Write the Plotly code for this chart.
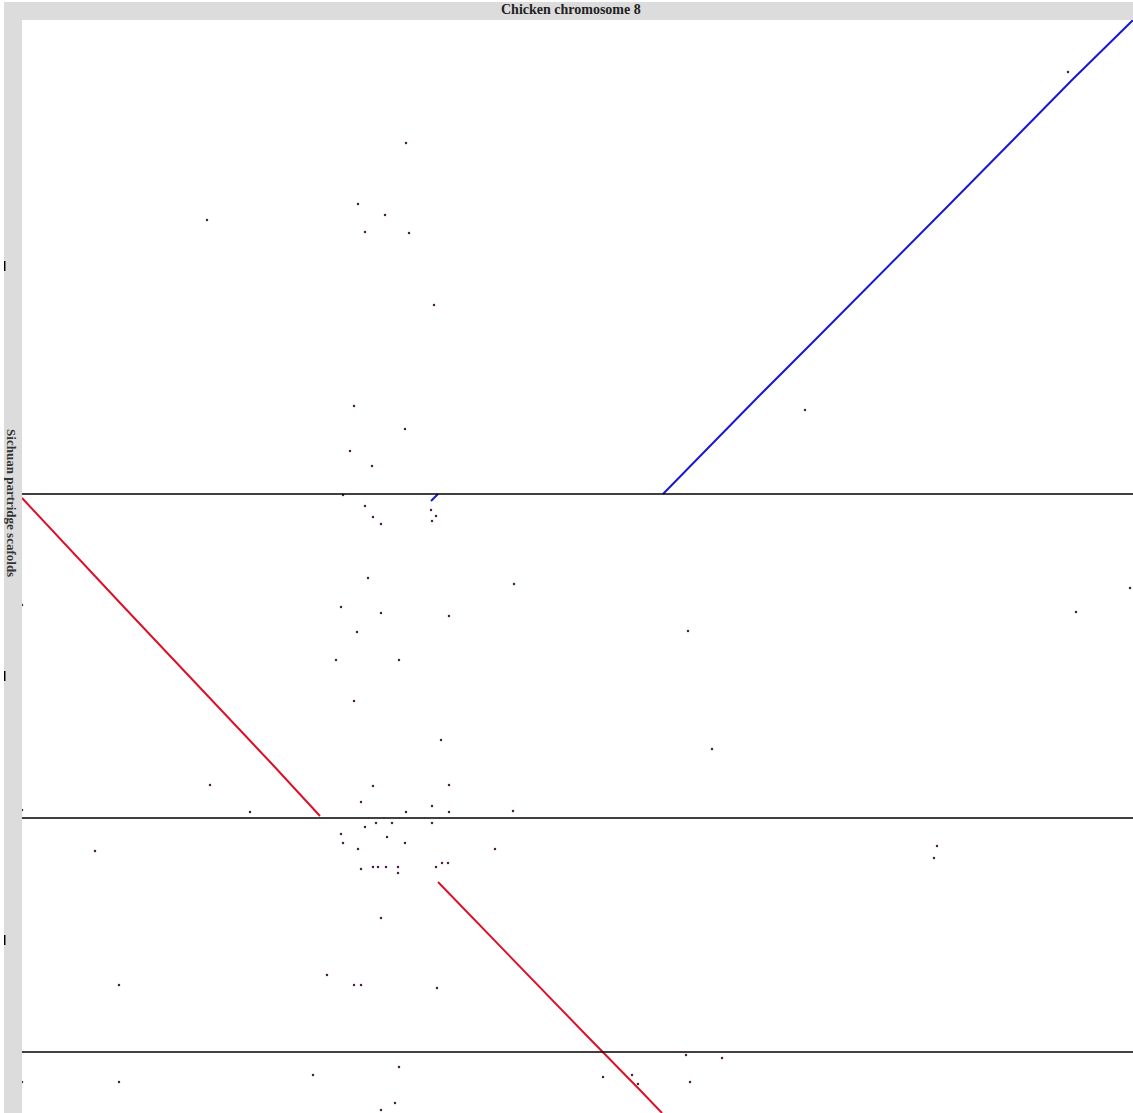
import plotly.graph_objects as go

# ---- data (positions along chicken chr8 (x) and stacked partridge scaffolds (y), arbitrary units) ----
blue_x = [641, 680, 736, 790, 868, 923, 994, 1050, 1111]
blue_y = [474, 434, 377, 323, 245, 189, 117, 60, 0]

blue_small_x = [409, 416]
blue_small_y = [481, 474]

red1_x = [0, 50, 100, 150, 200, 250, 298]
red1_y = [478, 532, 585, 638, 691, 744, 796]

red2_x = [416, 466, 516, 566, 616, 640]
red2_y = [862, 914, 965, 1017, 1068, 1093]

scaffold_breaks = [474, 798, 1032]
scaffold_ticks = [246, 656, 920]

dots_x = [384, 185, 336, 363, 343, 387, 412, 332, 383, 328, 350, 783, 1046,
          321, 343, 351, 359, 409, 414, 410,
          0, 346, 492, 319, 359, 335, 427, 666, 1054, 1108, 314, 377, 332, 419, 690,
          188, 351, 427, 228, 339, 384, 410, 427, 491, 0,
          73, 354, 343, 370, 410, 319, 365, 321, 336, 383, 364, 414, 426, 473,
          339, 351, 356, 376, 376, 420, 915, 912,
          359, 305, 332, 339, 415, 97,
          291, 377, 0, 97, 581, 664, 700, 668, 610, 616, 373, 359]
dots_y = [123, 200, 184, 195, 212, 213, 285, 386, 409, 431, 446, 390, 52,
          475, 486, 497, 504, 490, 496, 501,
          585, 558, 564, 587, 593, 612, 596, 611, 592, 568, 640, 640, 681, 720, 729,
          765, 766, 765, 792, 782, 792, 786, 792, 791, 790,
          831, 803, 807, 803, 803, 814, 817, 823, 829, 823, 847, 847, 843, 829,
          849, 847, 847, 847, 853, 843, 826, 838,
          898, 955, 965, 965, 968, 965,
          1055, 1047, 1062, 1062, 1057, 1035, 1038, 1062, 1055, 1064, 1083, 1090]

fig = go.Figure()

dot_color = "#4a2046"
fig.add_trace(go.Scatter(x=dots_x, y=dots_y, mode="markers",
                         marker=dict(size=2.5, color=dot_color, line=dict(width=0)),
                         hoverinfo="skip"))

fig.add_trace(go.Scatter(x=blue_x, y=blue_y, mode="lines",
                         line=dict(color="#1818d4", width=2), hoverinfo="skip"))
fig.add_trace(go.Scatter(x=blue_small_x, y=blue_small_y, mode="lines",
                         line=dict(color="#1818d4", width=2), hoverinfo="skip"))
fig.add_trace(go.Scatter(x=red1_x, y=red1_y, mode="lines",
                         line=dict(color="#dc1028", width=2), hoverinfo="skip"))
fig.add_trace(go.Scatter(x=red2_x, y=red2_y, mode="lines",
                         line=dict(color="#dc1028", width=2), hoverinfo="skip"))

for yb in scaffold_breaks:
    fig.add_hline(y=yb, line=dict(color="black", width=1.4))

for yt in scaffold_ticks:
    fig.add_shape(type="line", xref="paper", yref="y",
                  x0=-0.0158, x1=-0.0158, y0=yt - 5, y1=yt + 5,
                  line=dict(color="black", width=2))

fig.add_annotation(text="<b>Chicken chromosome 8</b>", xref="paper", yref="paper",
                   x=0.494, y=1.0, yanchor="bottom", yshift=1, showarrow=False,
                   font=dict(family="Liberation Serif", size=14, color="#222"))
fig.add_annotation(text="<b>Sichuan partridge scafolds</b>", xref="paper", yref="paper",
                   x=-0.009, y=0.558, xanchor="center", yanchor="middle", textangle=90,
                   showarrow=False,
                   font=dict(family="Liberation Serif", size=13, color="#333"))

fig.update_xaxes(range=[0, 1111], visible=False, fixedrange=True)
fig.update_yaxes(range=[1093, 0], visible=False, fixedrange=True)

fig.update_layout(width=1129, height=1111,
                  margin=dict(l=18, r=0, t=18, b=0),
                  paper_bgcolor="#dcdcdc", plot_bgcolor="white",
                  showlegend=False)

fig.write_html("out.html",
               post_script="document.body.style.margin='2px 0 0 4px';document.body.style.background='white';")
